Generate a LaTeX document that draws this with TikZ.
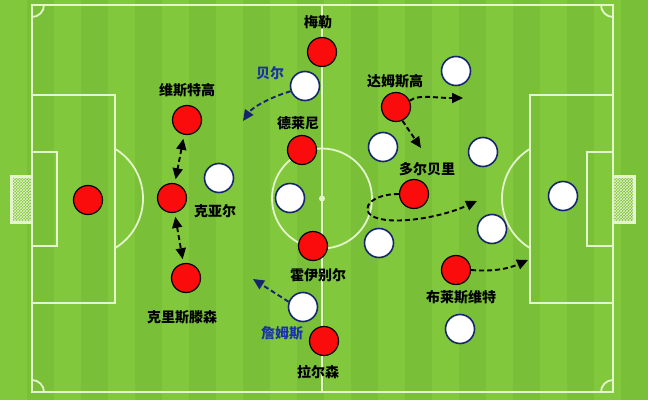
\documentclass[tikz,border=0pt]{standalone}
\usepackage{fontspec}
\newfontfamily\cjk{Noto Sans CJK SC}
\usetikzlibrary{arrows.meta,patterns}
\definecolor{grassA}{RGB}{130,200,60}
\definecolor{grassB}{RGB}{121,191,55}
\definecolor{chalk}{RGB}{228,245,205}
\definecolor{navy}{RGB}{22,38,110}
\definecolor{runblue}{RGB}{25,50,170}
\definecolor{shirt}{RGB}{250,12,12}
\tikzset{
  redplayer/.style={circle, draw=black, line width=1.2pt, fill=shirt, minimum size=29pt, inner sep=0pt},
  whiteplayer/.style={circle, draw=navy, line width=1.6pt, fill=white, minimum size=29pt, inner sep=0pt},
  pname/.style={font=\cjk\bfseries\fontsize{14}{16}\selectfont, text=black},
  bname/.style={pname, text=runblue},
  run/.style={dashed, dash pattern=on 5pt off 3pt, line width=1.9pt, -{Triangle[length=11pt,width=10pt]}},
  duel/.style={run, {Triangle[length=11pt,width=10pt]}-{Triangle[length=11pt,width=10pt]}, shorten <=4pt, shorten >=4pt}
}
\begin{document}
\begin{tikzpicture}[x=1pt, y=1pt]

  \useasboundingbox (0,0) rectangle (648,400);
  \foreach \s in {0,2,...,22}
    \fill[grassA] (\s*27,0) rectangle ++(27,400);
  \foreach \s in {1,3,...,23}
    \fill[grassB] (\s*27,0) rectangle ++(27,400);

  % pitch
  \begin{scope}[draw=chalk, line width=1.8pt]
    \draw (32,8) rectangle (613,395);
    \draw (322,8) -- (322,395);
    \draw (322,201.5) circle (50);
    \fill[chalk] (322,201.5) circle (3);
    \draw (32,97) rectangle (115,305);
    \draw (32,154) rectangle (57,248);
    \draw (530,97) rectangle (613,305);
    \draw (587,154) rectangle (613,248);
    \draw (115,251.2) arc (58.9:-58.9:58);
    \draw (530,251.2) arc (121.1:238.9:58);
    \draw (44,395) arc (0:-90:12);
    \draw (32,20) arc (90:0:12);
    \draw (601,395) arc (180:270:12);
    \draw (613,20) arc (90:180:12);
    \fill[pattern=crosshatch, pattern color=chalk] (11,178) rectangle (31,224);
    \draw[line width=3pt] (32,178) -| (11,224) -- (32,224);
    \fill[pattern=crosshatch, pattern color=chalk] (614,178) rectangle (634,224);
    \draw[line width=3pt] (613,178) -| (634,224) -- (613,224);
  \end{scope}

  % Denmark
  \node[redplayer] (schmeichel) at (88,200) {};
  \node[redplayer] (vestergaard) at (187,280) {};
  \node[redplayer] (kjaer) at (172,202) {};
  \node[redplayer] (christensen) at (186,122) {};
  \node[redplayer] (maehle) at (322,348) {};
  \node[redplayer] (delaney) at (302,250) {};
  \node[redplayer] (hojbjerg) at (313,154) {};
  \node[redplayer] (larsen) at (324,59) {};
  \node[redplayer] (damsgaard) at (396,293) {};
  \node[redplayer] (dolberg) at (414,206) {};
  \node[redplayer] (braithwaite) at (456,130) {};

  % Wales
  \node[whiteplayer] (bale) at (305,314) {};
  \node[whiteplayer] (wa) at (456,329) {};
  \node[whiteplayer] (wb) at (383,253) {};
  \node[whiteplayer] (wc) at (483,248) {};
  \node[whiteplayer] (wd) at (219,222) {};
  \node[whiteplayer] (we) at (290,202) {};
  \node[whiteplayer] (wf) at (379,157) {};
  \node[whiteplayer] (wg) at (492,171) {};
  \node[whiteplayer] (ward) at (563,204) {};
  \node[whiteplayer] (james) at (303,93) {};
  \node[whiteplayer] (wh) at (460,71) {};

  \node[pname] (maehlename) at (318,378) {梅勒};
  \node[pname] (vestergaardname) at (187,310) {维斯特高};
  \node[pname] (delaneyname) at (298,277) {德莱尼};
  \node[pname] (kjaername) at (215,189) {克亚尔};
  \node[pname] (christensenname) at (182,83) {克里斯滕森};
  \node[pname] (hojbjergname) at (318,125) {霍伊别尔};
  \node[pname] (larsenname) at (318,28) {拉尔森};
  \node[pname] (damsgaardname) at (395,319) {达姆斯高};
  \node[pname] (dolbergname) at (427,231) {多尔贝里};
  \node[pname] (braithwaitename) at (461,103) {布莱斯维特};
  \node[bname] (balename) at (270,327) {贝尔};
  \node[bname] (jamesname) at (282,67) {詹姆斯};

  \coordinate (balerun) at (243,279);
  \coordinate (jamesrun) at (253,121);
  \coordinate (damsgaardwide) at (463,302);
  \coordinate (damsgaarddown) at (421,252);
  \coordinate (dolbergrun) at (477,199);
  \coordinate (braithwaiterun) at (528,140);

  \draw[run, navy] (bale.200) .. controls (268,302) and (252,292) .. (balerun);
  \draw[run, navy] (james.160) -- (jamesrun);
  \draw[duel] (vestergaard) -- (kjaer);
  \draw[duel] (kjaer) -- (christensen);
  \draw[run] (damsgaard.25) .. controls (420,306) and (432,302) .. (damsgaardwide);
  \draw[run] (damsgaard.-65) -- (damsgaarddown);
  \draw[run] (dolberg.west) .. controls (372,206) and (360,192) .. (372,184) .. controls (390,174) and (440,182) .. (dolbergrun);
  \draw[run] (braithwaite.east) .. controls (495,128) and (510,132) .. (braithwaiterun);

\end{tikzpicture}
\end{document}
